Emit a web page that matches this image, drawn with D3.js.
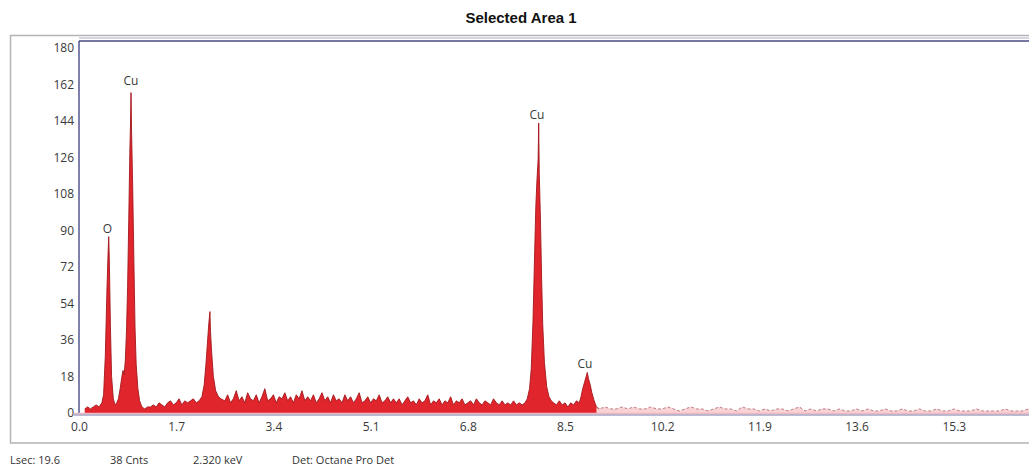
<!DOCTYPE html>
<html>
<head>
<meta charset="utf-8">
<script src="https://cdn.jsdelivr.net/npm/d3@7"></script>
<style>
  html, body { margin: 0; padding: 0; background: #ffffff; }
  svg { display: block; }
</style>
</head>
<body>
<svg id="chart" width="1029" height="473"></svg>
<script>
// ---------------- DATA ----------------
const title = "Selected Area 1";
const xTicks = [0.0, 1.7, 3.4, 5.1, 6.8, 8.5, 10.2, 11.9, 13.6, 15.3];
const yTicks = [0, 18, 36, 54, 72, 90, 108, 126, 144, 162, 180];
const footer = ["Lsec: 19.6", "38 Cnts", "2.320 keV", "Det: Octane Pro Det"];

// peak labels
const peakLabels = ["O", "Cu", "Cu", "Cu"];
const peakLabelE = [0.55, 0.96, 8.06, 8.90];
const peakLabelC = [87, 160, 143, 20];

// background segments: start energy (keV), channel width, counts
const bg1Start = 0.10, bg1Step = 0.05;
const bg1Counts = [2, 3, 2, 3, 4, 3, 5];
const bg2Start = 1.15, bg2Step = 0.05;
const bg2Counts = [2, 3, 3, 4, 3, 5, 4, 3, 5, 6, 4, 5, 7, 4, 6, 5, 6, 7, 5, 6];
const bg3Start = 2.55, bg3Step = 0.05;
const bg3Counts = [
  6, 9, 5, 7, 11, 6, 8, 5, 10, 7, 6, 9, 5, 8, 12, 6, 7, 9, 5, 8,
  7, 10, 6, 8, 5, 9, 7, 11, 6, 8, 6, 9, 5, 7, 10, 6, 8, 5, 9, 6,
  7, 5, 9, 6, 8, 5, 7, 10, 5, 6, 8, 5, 7, 6, 9, 5, 6, 8, 5, 7,
  5, 7, 4, 6, 8, 5, 6, 4, 7, 5, 6, 9, 4, 6, 5, 7, 4, 6, 5, 8,
  4, 6, 5, 7, 4, 5, 6, 4, 7, 5, 4, 6, 5, 4, 7, 5, 4, 6, 4, 5,
  4, 6, 4, 5, 4, 5
];
const bg4Start = 8.30, bg4Step = 0.05;
const bg4Counts = [5, 4, 6, 4, 5, 3, 5, 4, 6, 5];
const bg5Start = 9.10, bg5Step = 0.10;
const bg5Counts = [
  2, 3, 2, 2, 3, 2, 3, 2, 2, 3,
  2, 2, 3, 2, 1, 2, 3, 2, 2, 1,
  2, 3, 2, 2, 1, 3, 2, 2, 1, 2,
  1, 2, 2, 1, 2, 3, 1, 2, 1, 2,
  2, 1, 2, 1, 1, 2, 1, 2, 1, 1,
  2, 1, 1, 2, 1, 1, 2, 1, 1, 2,
  1, 1, 2, 1, 1, 1, 2, 1, 1, 1,
  1, 2, 1, 1, 1, 2, 1, 1, 1, 1
];

// peaks: explicit energies (keV) and counts
const oPeakE = [0.43, 0.46, 0.49, 0.51, 0.52, 0.53, 0.55, 0.57, 0.60, 0.63, 0.66];
const oPeakC = [9, 28, 62, 80, 87, 76, 42, 18, 7, 4, 5];
const cuLPeakE = [0.69, 0.72, 0.75, 0.77, 0.79, 0.81, 0.83, 0.85, 0.87, 0.89, 0.90, 0.91, 0.92, 0.94, 0.96, 0.98, 1.00, 1.03, 1.06, 1.10];
const cuLPeakC = [7, 12, 18, 21, 19, 26, 40, 62, 95, 130, 142, 158, 138, 110, 75, 42, 24, 12, 6, 3];
const siPeakE = [2.15, 2.19, 2.22, 2.25, 2.27, 2.29, 2.30, 2.32, 2.35, 2.39, 2.44, 2.48];
const siPeakC = [8, 14, 24, 36, 44, 50, 40, 30, 18, 11, 8, 7];
const cuKaPeakE = [7.84, 7.88, 7.91, 7.94, 7.97, 7.99, 8.01, 8.03, 8.04, 8.05, 8.07, 8.09, 8.11, 8.14, 8.18, 8.22, 8.26];
const cuKaPeakC = [7, 12, 22, 45, 80, 102, 115, 125, 143, 118, 96, 68, 44, 25, 13, 8, 6];
const cuKbPeakE = [8.78, 8.81, 8.84, 8.87, 8.89, 8.91, 8.94, 8.97, 9.01, 9.05];
const cuKbPeakC = [8, 12, 15, 18, 20, 17, 14, 10, 6, 3];

// ---------------- BUILD SPECTRUM ----------------
function seg(start, step, counts) {
  return counts.map((c, i) => ({ e: +(start + i * step).toFixed(3), c }));
}
function pk(es, cs) { return es.map((e, i) => ({ e, c: cs[i] })); }

const spectrum = [].concat(
  seg(bg1Start, bg1Step, bg1Counts),
  pk(oPeakE, oPeakC),
  pk(cuLPeakE, cuLPeakC),
  seg(bg2Start, bg2Step, bg2Counts),
  pk(siPeakE, siPeakC),
  seg(bg3Start, bg3Step, bg3Counts),
  pk(cuKaPeakE, cuKaPeakC),
  seg(bg4Start, bg4Step, bg4Counts),
  pk(cuKbPeakE, cuKbPeakC),
  seg(bg5Start, bg5Step, bg5Counts)
).sort((a, b) => a.e - b.e);

// ---------------- DRAW ----------------
const svg = d3.select("#chart");

const x = d3.scaleLinear().domain([0, 17]).range([79, 1051]);
const y = d3.scaleLinear().domain([0, 180]).range([413, 48]);
const plotTop = 41, plotBottom = 413, plotLeft = 79;

// title
svg.append("text")
  .attr("x", 521).attr("y", 23)
  .attr("text-anchor", "middle")
  .attr("font-family", "Liberation Sans, Arial, sans-serif")
  .attr("font-weight", "bold")
  .attr("font-size", 15)
  .attr("fill", "#111")
  .text(title);

// outer panel frame
svg.append("rect")
  .attr("x", 10.5).attr("y", 35.5)
  .attr("width", 1040).attr("height", 407.5)
  .attr("fill", "#ffffff")
  .attr("stroke", "#b4b4b8").attr("stroke-width", 1.5);

// plot area frame (top + left navy)
svg.append("line")
  .attr("x1", plotLeft).attr("x2", 1040)
  .attr("y1", plotTop).attr("y2", plotTop)
  .attr("stroke", "#4a4a86").attr("stroke-width", 1.5);
svg.append("line")
  .attr("x1", plotLeft).attr("x2", 1040)
  .attr("y1", plotTop - 3).attr("y2", plotTop - 3)
  .attr("stroke", "#c8c8d8").attr("stroke-width", 1.5);
svg.append("line")
  .attr("x1", plotLeft).attr("x2", plotLeft)
  .attr("y1", plotTop).attr("y2", plotBottom)
  .attr("stroke", "#3c3c80").attr("stroke-width", 1.3);

// spectrum area
const area = d3.area()
  .x(d => x(d.e))
  .y0(y(0))
  .y1(d => y(d.c))
  .curve(d3.curveLinear);
const line = d3.line()
  .x(d => x(d.e))
  .y(d => y(d.c))
  .curve(d3.curveLinear);

const gSpec = svg.append("g");
gSpec.append("path")
  .datum(spectrum.filter(d => d.e <= 9.1))
  .attr("d", area)
  .attr("fill", "#e0262c");
gSpec.append("path")
  .datum(spectrum.filter(d => d.e >= 9.05))
  .attr("d", area)
  .attr("fill", "#f8d2d4");
gSpec.append("path")
  .datum(spectrum.filter(d => d.e <= 9.1))
  .attr("d", line)
  .attr("fill", "none")
  .attr("stroke", "#a3161c")
  .attr("stroke-width", 0.9);
gSpec.append("path")
  .datum(spectrum.filter(d => d.e >= 9.05))
  .attr("d", line)
  .attr("fill", "none")
  .attr("stroke", "#b0606a")
  .attr("stroke-width", 0.8)
  .attr("stroke-dasharray", "3,2");

// x axis baseline
svg.append("line")
  .attr("x1", 74).attr("x2", 1040)
  .attr("y1", plotBottom + 0.5).attr("y2", plotBottom + 0.5)
  .attr("stroke", "#f0b8c0").attr("stroke-width", 1.5);
svg.append("line")
  .attr("x1", 74).attr("x2", 1040)
  .attr("y1", plotBottom + 2).attr("y2", plotBottom + 2)
  .attr("stroke", "#7878a8").attr("stroke-width", 1);

// axes via d3 (labels only, no domain line)
const axisFont = "Open Sans, DejaVu Sans, sans-serif";
const yAxis = d3.axisLeft(y).tickValues(yTicks).tickSize(0).tickPadding(5)
  .tickFormat(d => d3.format("d")(d));
const gy = svg.append("g").attr("transform", `translate(${plotLeft},0)`).call(yAxis);
gy.select(".domain").remove();
gy.selectAll("text")
  .attr("font-family", axisFont).attr("font-size", 12).attr("fill", "#3a3a3a");

const xAxis = d3.axisBottom(x).tickValues(xTicks).tickSize(0).tickPadding(9)
  .tickFormat(d3.format(".1f"));
const gx = svg.append("g").attr("transform", `translate(0,${plotBottom})`).call(xAxis);
gx.select(".domain").remove();
gx.selectAll("text")
  .attr("font-family", axisFont).attr("font-size", 12).attr("fill", "#3a3a3a");

// peak labels
svg.append("g").selectAll("text")
  .data(peakLabels.map((t, i) => ({ t, e: peakLabelE[i], c: peakLabelC[i] })))
  .join("text")
  .attr("x", d => x(d.e) - 3)
  .attr("y", d => y(d.c) - 4)
  .attr("text-anchor", "middle")
  .attr("font-family", axisFont)
  .attr("font-size", 12)
  .attr("fill", "#3a3a3a")
  .text(d => d.t);

// footer
const footerX = [10, 110, 193, 292];
svg.append("g").selectAll("text")
  .data(footer)
  .join("text")
  .attr("x", (d, i) => footerX[i])
  .attr("y", 464)
  .attr("font-family", axisFont)
  .attr("font-size", 11)
  .attr("fill", "#333")
  .text(d => d);
</script>
</body>
</html>
